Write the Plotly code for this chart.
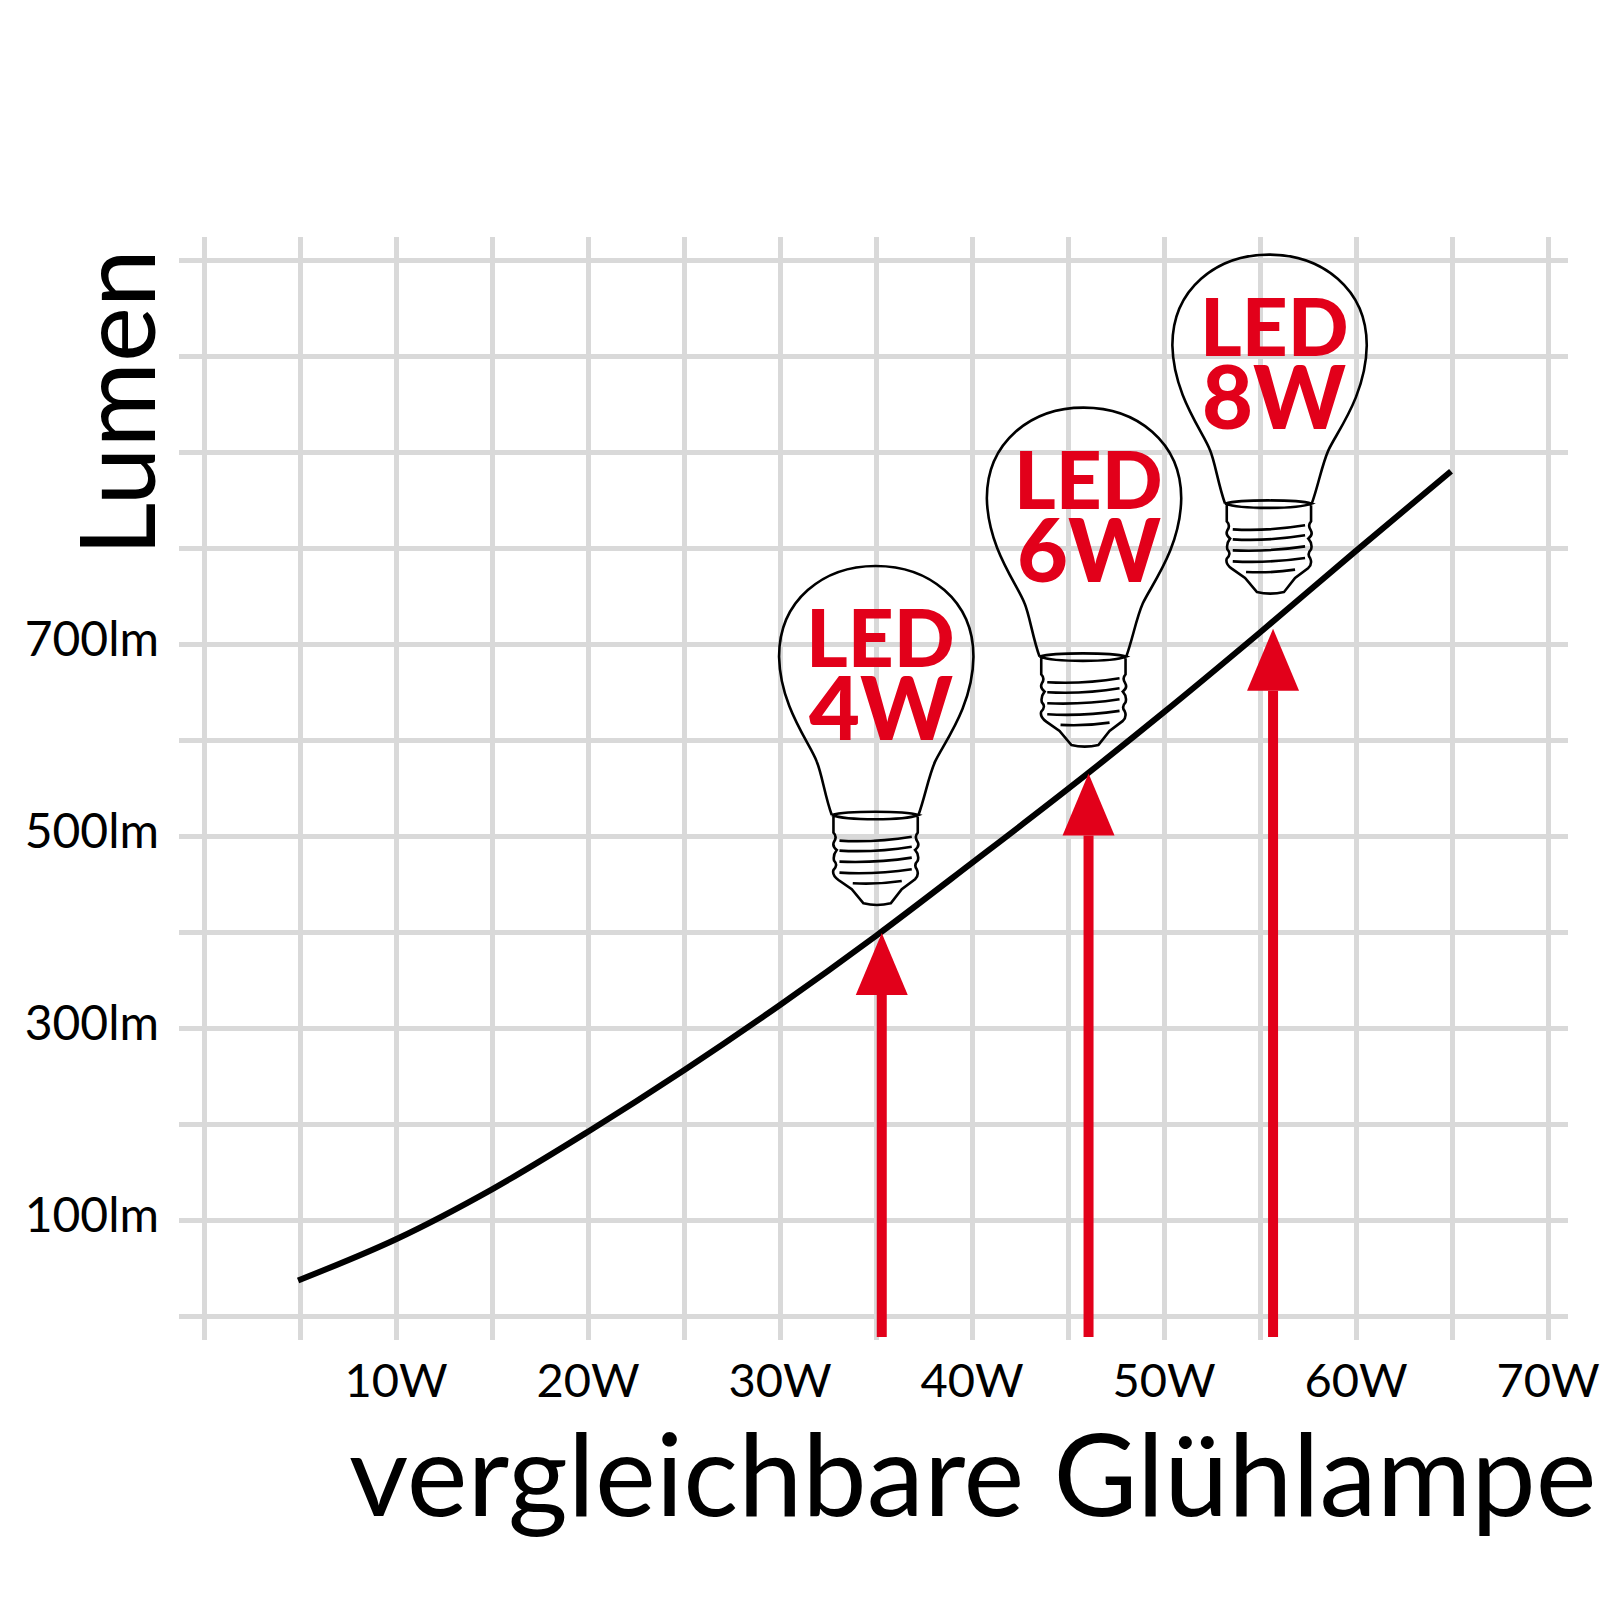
import plotly.graph_objects as go

# curve
watt = [4.9, 10, 15, 20, 25, 30, 35, 40, 45, 50, 55, 60, 64.95]
lumen = [37, 80, 132, 192, 256, 324, 396, 472, 549, 629, 712, 797, 880]

grid_x = [0, 5, 10, 15, 20, 25, 30, 35, 40, 45, 50, 55, 60, 65, 70]
grid_x_labels = ['', '', '10W', '', '20W', '', '30W', '', '40W', '', '50W', '', '60W', '', '70W']
grid_y = [0, 100, 200, 300, 400, 500, 600, 700, 800, 900, 1000, 1100]
grid_y_labels = ['', '100lm', '', '300lm', '', '500lm', '', '700lm', '', '', '', '']

led_names = ['4W', '6W', '8W']
led_x = [35.3, 46.07, 55.68]
led_lumen = [399, 565, 716]
arrow_start = -22

RED = '#e2001a'
GRID = '#d9d9d9'
FONT = 'Lato'

# axis box in pixels of the 1620x1620 page, the page body adds 8px
BODY = 8
LEFT, RIGHT, TOP, BOTTOM = 179, 1568, 237, 1340
px_per_watt = 19.2
px_per_lumen = 0.96
head_w = 26 / px_per_watt
head_h = 62 / px_per_lumen

# lamp offset from arrow tip, px
lamp_dx = [-6, -5, -4]
lamp_dy = [367, 366, 374]


def lamp_path(dx, dy):
  # outline, units are 1/3 px, origin at top of the glass
  def p(x, y):
    return f'{(x - 287) / 3 + dx:.1f},{dy - (y - 78) / 3:.1f}'

  glass = [(155, 825), (135, 770), (125, 700), (110, 665), (90, 610), (0, 500), (-3, 350),
           (-3, 180), (130, 78), (287, 78), (445, 78), (580, 180), (580, 350),
           (578, 500), (490, 610), (465, 665), (445, 710), (435, 770), (415, 825)]
  path = 'M' + p(*glass[0])
  for i in range(1, len(glass), 3):
    path += ' C' + ' '.join(p(*q) for q in glass[i:i + 3])

  path += f' M{p(155, 825)} C{p(200, 812)} {p(370, 812)} {p(415, 825)}'
  path += f' C{p(370, 842)} {p(200, 842)} {p(155, 825)}'

  left = [(172, 890), (162, 905), (155, 918), (170, 930), (158, 945), (162, 962), (175, 975), (160, 990),
          (155, 1005), (175, 1020)]
  path += f' M{p(160, 830)} L{p(160, 878)}'
  for i in range(0, len(left), 2):
    path += f' Q{p(*left[i])} {p(*left[i + 1])}'
  path += f' L{p(215, 1048)} L{p(250, 1090)} Q{p(290, 1100)} {p(332, 1090)} L{p(365, 1048)} L{p(405, 1018)}'
  right = [(418, 1005), (410, 988), (400, 975), (413, 962), (418, 945), (405, 930), (420, 918), (412, 905),
           (402, 890), (413, 878)]
  for i in range(0, len(right), 2):
    path += f' Q{p(*right[i])} {p(*right[i + 1])}'
  path += f' L{p(413, 830)}'

  threads = [(178, 902, 285, 908, 395, 890), (178, 932, 285, 938, 395, 920), (178, 965, 285, 970, 395, 953),
             (178, 998, 285, 1004, 395, 988), (218, 1030, 290, 1034, 365, 1023)]
  for t in threads:
    path += f' M{p(t[0], t[1])} Q{p(t[2], t[3])} {p(t[4], t[5])}'
  return path


def paper_x(px):
  return (px - LEFT) / (RIGHT - LEFT)


def paper_y(px):
  return (BOTTOM - px) / (BOTTOM - TOP)


fig = go.Figure()

fig.add_trace(go.Scatter(x=watt, y=lumen, mode='lines', showlegend=False, hoverinfo='skip',
                         line=dict(color='black', width=6, shape='spline', smoothing=1)))

for x, tip in zip(led_x, led_lumen):
  fig.add_trace(go.Scatter(x=[x, x], y=[arrow_start, tip - head_h], mode='lines', showlegend=False,
                           line=dict(color=RED, width=10)))
  fig.add_trace(go.Scatter(x=[x - head_w, x + head_w, x, x - head_w],
                           y=[tip - head_h, tip - head_h, tip, tip - head_h],
                           mode='lines', fill='toself', fillcolor=RED, showlegend=False,
                           line=dict(color=RED, width=0)))

shapes = []
annotations = []
for name, x, tip, dx, dy in zip(led_names, led_x, led_lumen, lamp_dx, lamp_dy):
  shapes.append(dict(type='path', layer='above', xref='x', yref='y', xsizemode='pixel', ysizemode='pixel',
                     xanchor=x, yanchor=tip, path=lamp_path(dx, dy),
                     line=dict(color='black', width=2.6)))
  # second row is set larger, its glyphs are taller and wider in the reference
  for txt, down, size in (('LED', 70, 80), (name, 140, 88)):
    annotations.append(dict(x=x, y=tip, xref='x', yref='y', text=txt, showarrow=False,
                            xshift=dx + 5, yshift=dy - down, xanchor='center', yanchor='middle',
                            font=dict(family=FONT, size=size, color=RED, weight=900)))

annotations.append(dict(x=paper_x(973), y=paper_y(1471), xref='paper', yref='paper',
                        text='vergleichbare Glühlampe', showarrow=False, xanchor='center', yanchor='middle',
                        font=dict(family=FONT, size=115, color='black')))
annotations.append(dict(x=paper_x(114), y=paper_y(403), xref='paper', yref='paper', text='Lumen',
                        showarrow=False, textangle=-90, xanchor='center', yanchor='middle',
                        font=dict(family=FONT, size=104, color='black')))

fig.update_layout(
    width=1604, height=1604, autosize=False,
    margin=dict(l=LEFT - BODY, r=1604 + BODY - RIGHT, t=TOP - BODY, b=1604 + BODY - BOTTOM, pad=0),
    paper_bgcolor='white', plot_bgcolor='white', showlegend=False,
    shapes=shapes, annotations=annotations,
    xaxis=dict(range=[(LEFT - 204) / px_per_watt, (RIGHT - 204) / px_per_watt],
               tickmode='array', tickvals=grid_x, ticktext=grid_x_labels, tickangle=0,
               showgrid=True, gridcolor=GRID, gridwidth=5, zeroline=False, showline=False,
               ticks='', ticklabelstandoff=9, tickfont=dict(family=FONT, size=47, color='black')),
    yaxis=dict(range=[(1316 - BOTTOM) / px_per_lumen, (1316 - TOP) / px_per_lumen],
               tickmode='array', tickvals=grid_y, ticktext=grid_y_labels,
               showgrid=True, gridcolor=GRID, gridwidth=5, zeroline=False, showline=False,
               ticks='', ticklabelstandoff=19, ticklabelshift=-5,
               tickfont=dict(family=FONT, size=48, color='black')),
)

fig.write_html("out.html")
